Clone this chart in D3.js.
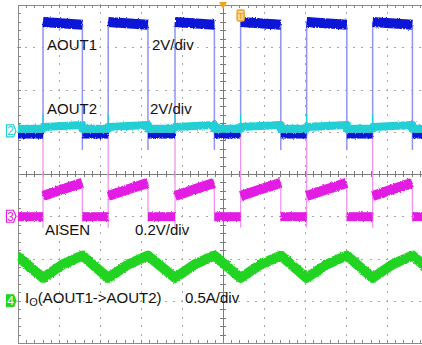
<!DOCTYPE html>
<html>
<head>
<meta charset="utf-8">
<script src="https://cdn.jsdelivr.net/npm/d3@7/dist/d3.min.js"></script>
<style>
  html, body { margin: 0; padding: 0; background: #fff; }
  svg { display: block; font-family: "Liberation Sans", Arial, sans-serif; }
</style>
</head>
<body>
<svg id="scope" width="422" height="345"></svg>
<script>
// edge times, in divisions across the screen (10 div)
const riseT = [0.61, 2.20, 3.83, 5.43, 7.04, 8.65, 10.26];
const fallT = [-0.04, 1.57, 3.17, 4.79, 6.41, 8.02, 9.62];

// levels in divisions from screen centre (up is +)
const ch1High = [3.60, 3.53];      // start / end of each high pulse
const ch1Low = 0.91;
const ch1Dip = 0.57;               // undershoot on falling edge
const ch2Low = 1.07;
const ch2High = [1.11, 1.16];
const ch2Spike = 1.42;
const ch3Low = -1.01;
const ch3Ramp = [-0.52, -0.36, -0.21];
const ch3Spike = [0.97, -1.27];
const ch4Valley = -2.46;
const ch4Mid = -2.14;
const ch4Peak = -1.93;

const chMarkers = ["2", "3", "4"];
const chMarkerLevel = [1.02, -1.0, -3.0];

const labelText = ["AOUT1", "2V/div", "AOUT2", "2V/div", "AISEN", "0.2V/div", "0.5A/div"];

const colors = {
  ch1: "#0c18d6", ch1Edge: "#8f93f3",
  ch2: "#21cfd4",
  ch3: "#e21de2", ch3Edge: "#f095ef",
  ch4: "#22d422",
  trig: "#f4a21d"
};

const W = 422, H = 345;
const x = d3.scaleLinear().domain([0, 10]).range([18, 428]);
const y = d3.scaleLinear().domain([-4, 4]).range([343, 5]);

const svg = d3.select("#scope");
const defs = svg.append("defs");
defs.append("clipPath").attr("id", "plot")
  .append("rect").attr("x", 18).attr("y", 5).attr("width", W - 18).attr("height", 338);

// scope persistence fuzz
const f = defs.append("filter").attr("id", "fuzz")
  .attr("filterUnits", "userSpaceOnUse")
  .attr("x", 0).attr("y", 0).attr("width", W).attr("height", H);
f.append("feTurbulence").attr("type", "fractalNoise")
  .attr("baseFrequency", "1.4 0.7").attr("numOctaves", 1).attr("seed", 4).attr("result", "t");
f.append("feDisplacementMap").attr("in", "SourceGraphic").attr("in2", "t")
  .attr("scale", 3).attr("xChannelSelector", "R").attr("yChannelSelector", "G");

// ---- graticule ----
const grid = svg.append("g").attr("shape-rendering", "crispEdges");
const minorT = d3.range(0, 51).map(d => d / 5);
const minorV = d3.range(-20, 21).map(d => d / 5);
const majT = [1, 2, 3, 4, 6, 7, 8, 9];
const majV = [-3, -2, -1, 1, 2, 3];

majT.forEach(t => {
  grid.selectAll(null).data(minorV).join("rect")
    .attr("x", Math.round(x(t))).attr("y", d => Math.round(y(d)) - 1)
    .attr("width", 1).attr("height", 2).attr("fill", "#a8a8a8");
});
majV.forEach(v => {
  grid.selectAll(null).data(minorT).join("rect")
    .attr("x", d => Math.round(x(d)) - 1).attr("y", Math.round(y(v)))
    .attr("width", 2).attr("height", 1).attr("fill", "#a8a8a8");
});

// centre cross with ticks
grid.append("line").attr("x1", x(5)).attr("x2", x(5)).attr("y1", y(4)).attr("y2", y(-4))
  .attr("stroke", "#7a7a7a");
grid.append("line").attr("x1", x(0)).attr("x2", W).attr("y1", y(0)).attr("y2", y(0))
  .attr("stroke", "#7a7a7a");
grid.selectAll(null).data(minorV).join("line")
  .attr("x1", x(5) - 3).attr("x2", x(5) + 3)
  .attr("y1", d => Math.round(y(d)) + 0.5).attr("y2", d => Math.round(y(d)) + 0.5)
  .attr("stroke", "#7a7a7a");
grid.selectAll(null).data(minorT).join("line")
  .attr("y1", y(0) - 3).attr("y2", y(0) + 3)
  .attr("x1", d => Math.round(x(d)) + 0.5).attr("x2", d => Math.round(x(d)) + 0.5)
  .attr("stroke", "#7a7a7a");

// border left / top / bottom
grid.append("path")
  .attr("d", `M${W},${y(4)}H${x(0)}V${y(-4)}H${W}`)
  .attr("fill", "none").attr("stroke", "#8a8a8a");
grid.selectAll(null).data(minorV).join("line")
  .attr("x1", x(0)).attr("x2", x(0) + 3)
  .attr("y1", d => Math.round(y(d)) + 0.5).attr("y2", d => Math.round(y(d)) + 0.5)
  .attr("stroke", "#8a8a8a");
[[y(4), 3], [y(-4), -3]].forEach(([yy, dir]) => {
  grid.selectAll(null).data(minorT).join("line")
    .attr("y1", yy).attr("y2", yy + dir)
    .attr("x1", d => Math.round(x(d)) + 0.5).attr("x2", d => Math.round(x(d)) + 0.5)
    .attr("stroke", "#8a8a8a");
});

// ---- traces ----
const line = d3.line().x(d => x(d[0])).y(d => y(d[1]));
const traces = svg.append("g").attr("clip-path", "url(#plot)");
const pulses = d3.range(riseT.length - 1).map(i => ({r: riseT[i], f: fallT[i + 1]}));
const lows = riseT.map((r, i) => ({f: fallT[i], r: r}));

function band(g, pts, color, w) {
  g.append("path").attr("d", line(pts)).attr("fill", "none")
    .attr("stroke", color).attr("stroke-width", w)
    .attr("stroke-linejoin", "round").attr("filter", "url(#fuzz)");
}
function edge(g, t, v0, v1, color, w) {
  g.append("line").attr("x1", x(t)).attr("x2", x(t))
    .attr("y1", y(v0)).attr("y2", y(v1))
    .attr("stroke", color).attr("stroke-width", w || 1.3);
}

// CH3 (AISEN)
const g3 = traces.append("g");
pulses.forEach(p => {
  edge(g3, p.r, ch3Spike[0], ch3Spike[1], colors.ch3Edge);
  edge(g3, p.f, ch3Ramp[2], ch3Low - 0.12, colors.ch3Edge);
});
lows.forEach(s => band(g3, [[s.f, ch3Low], [s.r, ch3Low]], colors.ch3, 9));
pulses.forEach(p => band(g3, [[p.r, ch3Ramp[0]], [(p.r + p.f) / 2, ch3Ramp[1]], [p.f, ch3Ramp[2]]], colors.ch3, 10));

// CH4 (current)
const g4 = traces.append("g");
const ch4Pts = [[fallT[0], ch4Peak]];
lows.forEach((s, i) => {
  ch4Pts.push([s.r, ch4Valley]);
  if (pulses[i]) {
    ch4Pts.push([(pulses[i].r + pulses[i].f) / 2, ch4Mid]);
    ch4Pts.push([pulses[i].f, ch4Peak]);
  }
});
band(g4, ch4Pts, colors.ch4, 10);

// CH1 (AOUT1)
const g1 = traces.append("g");
pulses.forEach(p => {
  edge(g1, p.r, ch1Low, ch1High[0], colors.ch1Edge, 1.5);
  edge(g1, p.f, ch1High[1], ch1Dip, colors.ch1Edge, 1.5);
  band(g1, [[p.r, ch1High[0]], [p.f, ch1High[1]]], colors.ch1, 10);
});
lows.forEach(s => band(g1, [[s.f, ch1Low], [s.r, ch1Low]], colors.ch1, 6));

// CH2 (AOUT2)
const g2 = traces.append("g");
pulses.forEach(p => edge(g2, p.r, ch2High[0], ch2Spike, colors.ch2, 1.2));
const ch2Pts = [];
lows.forEach((s, i) => {
  ch2Pts.push([s.f, ch2Low], [s.r, ch2Low]);
  if (pulses[i]) ch2Pts.push([pulses[i].r, ch2High[0]], [pulses[i].f, ch2High[1]]);
});
band(g2, ch2Pts, colors.ch2, 8);

// ---- trigger markers ----
svg.append("path")
  .attr("d", `M${x(5) - 4},2H${x(5) + 4}L${x(5)},9Z`)
  .attr("fill", colors.trig);
const tx = x(riseT[3]);
svg.append("rect").attr("x", tx - 3.5).attr("y", 10).attr("width", 7).attr("height", 11).attr("rx", 1.5)
  .attr("fill", "#fbd9a0").attr("stroke", colors.trig).attr("stroke-width", 1.5);
svg.append("text").attr("x", tx).attr("y", 19).attr("text-anchor", "middle")
  .attr("font-size", 9).attr("font-weight", "bold").attr("fill", colors.trig).text("T");

// ---- channel markers ----
const markColors = [colors.ch2, colors.ch3, colors.ch4];
chMarkers.forEach((m, i) => {
  const yy = y(chMarkerLevel[i]);
  const filled = i === 2;
  svg.append("path")
    .attr("d", `M6.5,${yy - 6}H13.5L16,${yy}L13.5,${yy + 6}H6.5Z`)
    .attr("fill", filled ? markColors[i] : "#fff")
    .attr("stroke", markColors[i]).attr("stroke-width", 1.2);
  svg.append("text").attr("x", 10.5).attr("y", yy + 4.5).attr("text-anchor", "middle")
    .attr("font-size", 12).attr("fill", filled ? "#fff" : markColors[i]).text(m);
});

// ---- labels ----
const lab = svg.append("g").attr("font-size", 15).attr("fill", "#111");
const labPos = [[47, 50], [152, 50], [47, 114], [150, 114], [45, 235], [135, 235], [185, 303]];
labelText.forEach((t, i) => {
  lab.append("text").attr("x", labPos[i][0]).attr("y", labPos[i][1]).text(t);
});
const io = lab.append("text").attr("x", 25).attr("y", 303);
io.append("tspan").text("I");
io.append("tspan").attr("font-size", 11).attr("dy", 3).text("O");
io.append("tspan").attr("dy", -3).text("(AOUT1->AOUT2)");
</script>
</body>
</html>
